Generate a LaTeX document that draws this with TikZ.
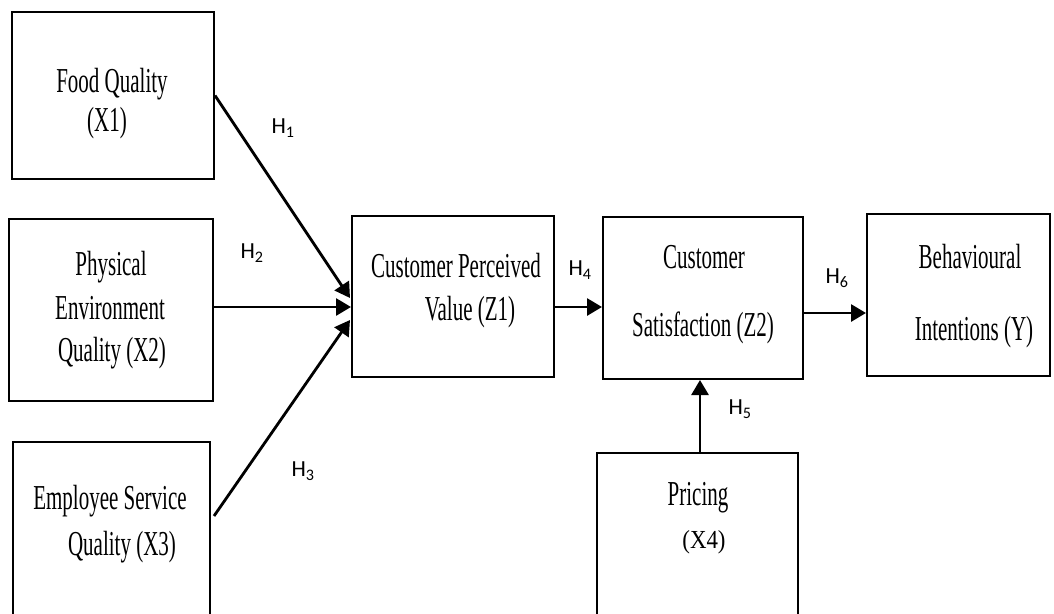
\documentclass[tikz,border=0pt]{standalone}
\usepackage{fontspec}
\setmainfont{Liberation Serif}
\newfontfamily\boxfont[FakeStretch=0.6]{Liberation Serif}
\newfontfamily\codefont[FakeStretch=0.88]{Liberation Serif}
\newfontfamily\hypfont{Carlito}
\usetikzlibrary{arrows.meta}
\begin{document}
\begin{tikzpicture}[x=1pt,y=-1pt,
  box/.style={draw, line width=2pt, inner sep=0pt},
  txt/.style={font=\boxfont\fontsize{35}{40}\selectfont, anchor=base, inner sep=0pt},
  smalltxt/.style={font=\codefont\fontsize{26}{30}\selectfont, anchor=base, inner sep=0pt},
  hyp/.style={font=\hypfont\fontsize{23}{26}\selectfont, inner sep=0pt},
  link/.style={line width=2.8pt, -{Triangle[length=15pt,width=17pt]}}]
\useasboundingbox (0,0) rectangle (1054,613);
\clip (0,0) rectangle (1054,613);

% construct boxes
\node[box, minimum width=202pt, minimum height=167pt] (fq)  at (113,95.5)   {};
\node[box, minimum width=204pt, minimum height=182pt] (pe)  at (111,310)    {};
\node[box, minimum width=197pt, minimum height=258pt] (es)  at (111.5,571)  {};
\node[box, minimum width=202pt, minimum height=161pt] (cpv) at (453,296.5)  {};
\node[box, minimum width=200pt, minimum height=162pt] (cs)  at (703,298)    {};
\node[box, minimum width=183pt, minimum height=162pt] (bi)  at (958.5,295)  {};
\node[box, minimum width=201pt, minimum height=247pt] (pr)  at (697.5,576.5){};

% box captions
\node[txt] (fq1) at (112,92)  {Food Quality};
\node[txt] (fq2) at (107,131) {(X1)};
\node[txt] (pe1) at (111,275) {Physical};
\node[txt] (pe2) at (110,319) {Environment};
\node[txt] (pe3) at (112,361) {Quality (X2)};
\node[txt] (es1) at (110,509) {Employee Service};
\node[txt] (es2) at (122,555) {Quality (X3)};
\node[txt] (cpv1) at (456,277) {Customer Perceived};
\node[txt] (cpv2) at (470,320) {Value (Z1)};
\node[txt] (cs1) at (704,268) {Customer};
\node[txt] (cs2) at (703,336) {Satisfaction (Z2)};
\node[txt] (bi1) at (970,268) {Behavioural};
\node[txt] (bi2) at (974,340) {Intentions (Y)};
\node[txt] (pr1) at (698,505) {Pricing};
\node[smalltxt] (pr2) at (704,548) {(X4)};

% hypothesised paths
\coordinate (t1) at (350,298);
\coordinate (t2) at (351,307);
\coordinate (t3) at (350,320);
\draw[link] (fq.east) -- (t1);
\draw[link] (pe.east |- t2) -- (t2);
\draw[link] ([xshift=3pt,yshift=-75pt]es.north east) -- (t3);

\coordinate (a4) at ([yshift=-10.5pt]cpv.east);
\draw[link] (a4) -- (a4 -| cs.west);

\coordinate (a6) at ([yshift=-15pt]cs.east);
\draw[link] (a6) -- (a6 -| bi.west);

\coordinate (a5) at ([xshift=2.5pt]pr.north);
\draw[link] (a5) -- (a5 |- cs.south);

% hypothesis labels
\node[hyp] (h1) at (283,128) {H\textsubscript{1}};
\node[hyp] (h2) at (252,253) {H\textsubscript{2}};
\node[hyp] (h3) at (303,471) {H\textsubscript{3}};
\node[hyp] (h4) at (580,270) {H\textsubscript{4}};
\node[hyp] (h5) at (740,409) {H\textsubscript{5}};
\node[hyp] (h6) at (837,278) {H\textsubscript{6}};
\end{tikzpicture}
\end{document}
